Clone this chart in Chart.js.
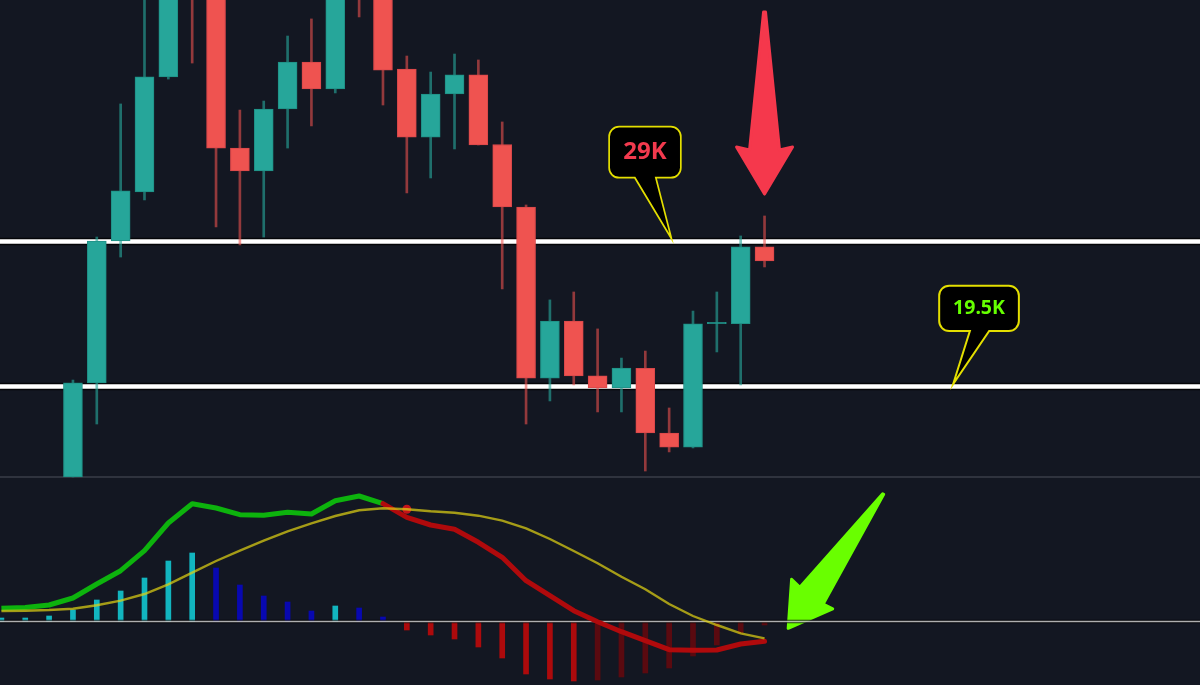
<!DOCTYPE html>
<html>
<head>
<meta charset="utf-8">
<style>html,body{margin:0;padding:0;background:#131722;overflow:hidden}canvas{display:block}</style>
<script src="https://cdn.jsdelivr.net/npm/chart.js@4/dist/chart.umd.js"></script>
</head>
<body>
<canvas id="c" width="1200" height="685"></canvas>
<script>
const candleIndex = [3,4,5,6,7,8,9,10,11,12,13,14,15,16,17,18,19,20,21,22,23,24,25,26,27,28,29,30,31,32];
const opens  = [13.57,19.73,29.03,32.24,39.78,47.44,46.13,35.12,33.62,37.68,40.76,38.99,47.44,46.13,40.30,35.84,38.66,39.91,35.35,31.26,20.05,23.79,20.19,19.40,20.68,16.45,15.53,23.61,23.61,28.64];
const closes = [19.73,29.03,32.31,39.78,46.13,45.15,35.12,33.62,37.68,40.76,38.99,46.13,45.15,40.23,35.84,38.66,39.91,35.32,31.26,20.05,23.79,20.19,19.40,20.71,16.45,15.53,23.61,23.70,28.64,27.72];
const highs  = [19.92,29.29,38.01,46.13,47.44,48.10,47.44,37.61,38.20,42.46,43.58,47.44,48.10,47.44,41.15,40.10,41.28,40.89,36.83,31.39,25.17,25.69,23.27,21.36,21.82,18.09,24.44,25.69,29.36,30.67];
const lows   = [13.57,17.04,27.98,31.72,39.64,40.69,29.95,28.77,29.29,35.12,36.57,38.73,43.71,37.94,32.18,33.16,35.06,35.32,25.89,17.04,18.55,19.60,17.83,17.83,13.96,15.21,15.47,21.76,19.60,27.33];
const levels = [29, 19.5];

const macdIndex = [0,1,2,3,4,5,6,7,8,9,10,11,12,13,14,15,16,17,18,19,20,21,22,23,24,25,26,27,28,29,30,31,32];
const histogram = [.07,.07,.11,.23,.43,.61,.87,1.21,1.37,1.07,.73,.51,.39,.21,.31,.27,.09,-.17,-.27,-.35,-.51,-.73,-1.05,-1.15,-1.19,-1.17,-1.11,-1.03,-.93,-.69,-.47,-.23,-.07];
const macdLine = [.264,.28,.33,.47,.75,1.016,1.416,1.97,2.356,2.27,2.136,2.124,2.184,2.15,2.416,2.51,2.356,2.084,1.93,1.844,1.584,1.284,.816,.516,.216,-.004,-.204,-.384,-.564,-.576,-.57,-.45,-.396];
const signalLine = [.21,.216,.23,.256,.324,.416,.55,.744,.976,1.21,1.416,1.616,1.804,1.964,2.11,2.224,2.264,2.244,2.204,2.176,2.116,2.016,1.864,1.65,1.41,1.164,.896,.644,.35,.11,-.07,-.236,-.336];
const macdTurnIndex = 16;
const crossMarks = [17];
const panelFloor = 13.57;

const UP='#26a69a', DOWN='#ef5350', UP_EDGE='#1f8f85', DOWN_EDGE='#d8474a';
const isUp = i => closes[i] >= opens[i];
const span = [-1, 52];

const hLine = (y, color, width, order, axis) => ({
  type:'line', yAxisID:axis, order,
  data: span.map(x => ({x, y})),
  borderColor:color, borderWidth:width, pointRadius:0
});

const datasets = [
  hLine(panelFloor,'#3a3e49',1.5,60,'price'),
  ...levels.map(v => hLine(v,'rgba(0,0,0,.75)',7.5,59,'price')),
  ...levels.map(v => hLine(v,'#ffffff',4.5,58,'price')),
  { type:'bar', yAxisID:'price', order:50, barThickness:2, grouped:false,
    data:candleIndex.map((x,i)=>({x,y:[lows[i],highs[i]]})),
    backgroundColor:candleIndex.map((x,i)=>isUp(i)?'rgba(38,166,154,.62)':'rgba(239,83,80,.58)') },
  { type:'bar', yAxisID:'price', order:49, barThickness:19, grouped:false,
    data:candleIndex.map((x,i)=>({x,y:[opens[i],closes[i]]})),
    backgroundColor:candleIndex.map((x,i)=>isUp(i)?UP:DOWN),
    borderColor:candleIndex.map((x,i)=>isUp(i)?UP_EDGE:DOWN_EDGE),
    borderWidth:1, borderSkipped:false },
  { type:'bar', yAxisID:'macd', order:40, barThickness:5, grouped:false,
    data:macdIndex.map((x,i)=>({x,y:histogram[i]})),
    backgroundColor:macdIndex.map((x,i)=>{
      const v=histogram[i], p=i?histogram[i-1]:0;
      if(v>=0) return v>=p?'#12b5bf':'#0808b0';
      return v<=p?'#ad0a0c':'#5a0a10';
    }) },
  hLine(0,'rgba(0,0,0,.7)',3.5,36,'macd'),
  hLine(0,'rgba(255,255,255,.68)',1.5,35,'macd'),
  { type:'line', yAxisID:'macd', order:30, label:'macd up',
    data:macdIndex.filter(x=>x<=macdTurnIndex).map(x=>({x,y:macdLine[x]})),
    borderColor:'#0db30d', borderWidth:5, pointRadius:0, borderJoinStyle:'round', tension:0 },
  { type:'line', yAxisID:'macd', order:29, label:'macd down',
    data:macdIndex.filter(x=>x>=macdTurnIndex).map(x=>({x,y:macdLine[x]})),
    borderColor:'#b00a0c', borderWidth:5, pointRadius:0, borderJoinStyle:'round', borderCapStyle:'round', tension:0 },
  { type:'line', yAxisID:'macd', order:27, label:'cross',
    data:crossMarks.map(x=>({x,y:signalLine[x]})),
    showLine:false, pointRadius:4.5, pointBackgroundColor:'#c4141a', pointBorderWidth:0 },
  { type:'line', yAxisID:'macd', order:26, label:'signal',
    data:macdIndex.map(x=>({x,y:signalLine[x]})),
    borderColor:'rgba(222,208,20,.72)', borderWidth:2.4, pointRadius:0, tension:0 }
];

// Annotations are anchored to data coordinates; offsets around the anchor are in pixels.
const callouts = [
  {x:28.1, y:29.18, text:'29K', color:'#f23a4e', font:'bold 24px "Noto Sans"', lw:1.7,
   box:[-62.4,-112,9.3,-61], tail:[-36.7,-15.7], textY:-87},
  {x:39.91, y:19.66, text:'19.5K', color:'#66ff00', font:'bold 19.5px "Noto Sans"', lw:2,
   box:[-14,-98.3,65.7,-53], tail:[16.7,36], textY:-75.3}
];
const arrows = [
  {x:32, y:32.04, color:'#f5384c', pts:[[-1,-183],[1,-183],[15,-45],[28,-48],[0,-1],[-28,-48],[-15,-45]]},
  {x:32.95, y:-0.156, axis:'macd', color:'#69ff00', pts:[[1,-1],[4.4,-50],[12.7,-42],[95.5,-135.5],[96.5,-135],[36,-25.3],[45.5,-20.5]]}
];

const decor = {
  id:'decor',
  beforeDatasetsDraw(chart){
    const {ctx, scales} = chart;
    ctx.save();
    arrows.forEach(a=>{
      const px=scales.x.getPixelForValue(a.x), py=scales[a.axis||'price'].getPixelForValue(a.y);
      ctx.beginPath();
      a.pts.forEach((p,i)=> i?ctx.lineTo(px+p[0],py+p[1]):ctx.moveTo(px+p[0],py+p[1]));
      ctx.closePath();
      ctx.fillStyle=a.color; ctx.strokeStyle=a.color; ctx.lineWidth=3; ctx.lineJoin='round';
      ctx.fill(); ctx.stroke();
    });
    ctx.restore();
  },
  afterDatasetsDraw(chart){
    const {ctx, scales} = chart;
    ctx.save();
    callouts.forEach(c=>{
      const tx=scales.x.getPixelForValue(c.x), ty=scales.price.getPixelForValue(c.y);
      const [l,t,r,b]=[tx+c.box[0],ty+c.box[1],tx+c.box[2],ty+c.box[3]], R=10;
      ctx.beginPath();
      ctx.moveTo(l+R,t);
      ctx.arcTo(r,t,r,b,R); ctx.arcTo(r,b,l,b,R);
      const tailA=tx+c.tail[0], tailB=tx+c.tail[1];
      ctx.lineTo(Math.max(tailA,tailB),b);
      ctx.lineTo(tx,ty);
      ctx.lineTo(Math.min(tailA,tailB),b);
      ctx.arcTo(l,b,l,t,R); ctx.arcTo(l,t,r,t,R);
      ctx.closePath();
      ctx.fillStyle='#000'; ctx.fill();
      ctx.strokeStyle='#e4df00'; ctx.lineWidth=c.lw; ctx.lineJoin='miter'; ctx.stroke();
      ctx.fillStyle=c.color; ctx.font=c.font; ctx.textAlign='center'; ctx.textBaseline='middle';
      ctx.fillText(c.text,(l+r)/2,ty+c.textY);
    });
    ctx.restore();
  }
};

new Chart(document.getElementById('c'),{
  data:{datasets},
  plugins:[decor],
  options:{
    responsive:false, animation:false, devicePixelRatio:1,
    layout:{padding:0, autoPadding:false},
    plugins:{legend:{display:false},tooltip:{enabled:false}},
    scales:{
      x:{type:'linear',min:-0.059,max:50.26,display:false,offset:false},
      price:{type:'linear',min:-0.06,max:44.82,display:false,position:'left'},
      macd:{type:'linear',min:-1.27,max:12.43,display:false,position:'right'}
    }
  }
});
</script>
</body>
</html>
